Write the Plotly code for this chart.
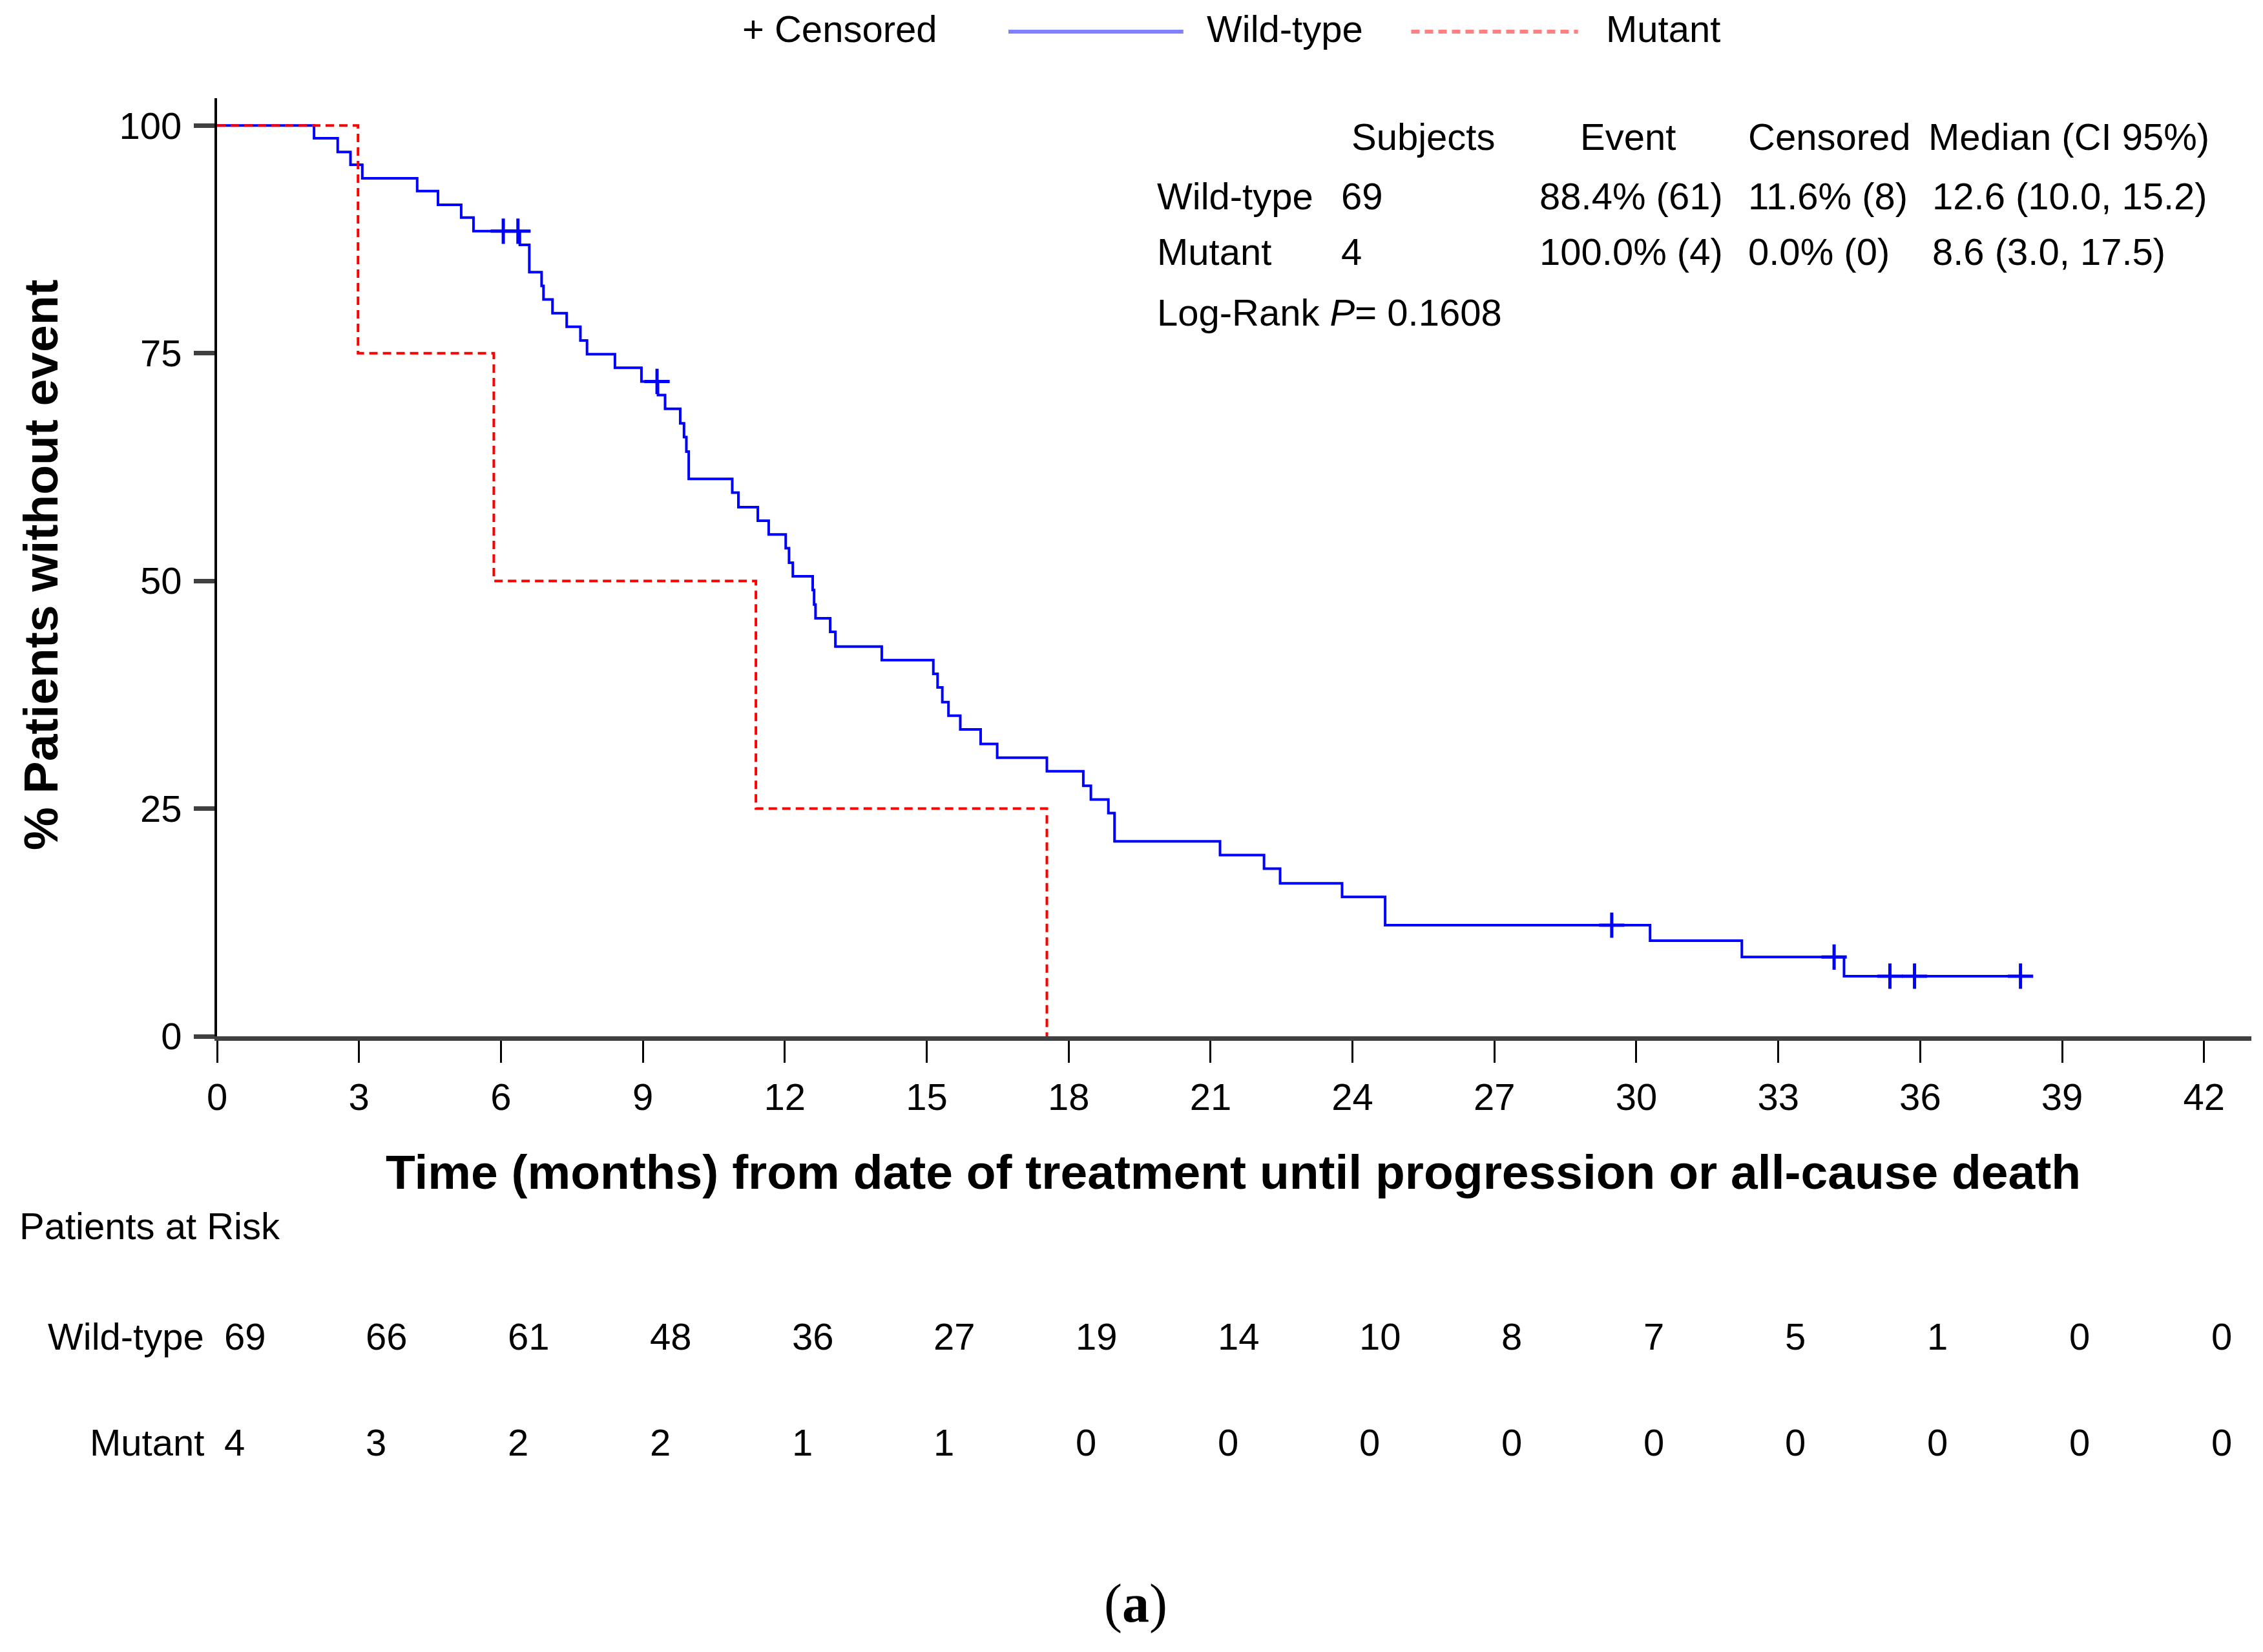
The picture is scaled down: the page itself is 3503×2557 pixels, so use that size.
import plotly.graph_objects as go

# Kaplan-Meier steps (months, % without event)
wt_time = [0, 2.05, 2.55, 2.82, 3.07, 4.23, 4.67, 5.16, 5.42, 6.40, 6.60, 6.86, 6.90,
           7.09, 7.39, 7.68, 7.82, 8.41, 8.97, 9.32, 9.47, 9.79, 9.87, 9.92, 9.97,
           10.89, 11.02, 11.43, 11.66, 12.02, 12.09, 12.17, 12.59, 12.62, 12.65, 12.96,
           13.07, 14.05, 15.14, 15.23, 15.33, 15.46, 15.71, 16.14, 16.49, 17.54, 18.31,
           18.47, 18.84, 18.97, 21.20, 22.13, 22.47, 23.78, 24.69, 30.29, 32.23, 34.39, 38.12]
wt_surv = [100, 98.6, 97.1, 95.7, 94.2, 92.8, 91.3, 89.9, 88.4, 86.9, 83.9, 82.4, 80.9,
           79.4, 77.9, 76.4, 74.9, 73.4, 71.9, 70.4, 68.9, 67.3, 65.8, 64.2, 61.2,
           59.7, 58.1, 56.6, 55.1, 53.6, 52.0, 50.5, 49.0, 47.4, 45.9, 44.4,
           42.8, 41.3, 39.8, 38.3, 36.7, 35.2, 33.7, 32.1, 30.6, 29.1, 27.5,
           26.0, 24.5, 21.4, 19.9, 18.4, 16.8, 15.3, 12.2, 10.5, 8.7, 6.6, 6.6]

wt_cens_time = [6.05, 6.36, 9.30, 29.48, 34.18, 35.36, 35.88, 38.12]
wt_cens_surv = [88.4, 88.4, 71.9, 12.2, 8.7, 6.6, 6.6, 6.6]

mut_time = [0, 2.98, 5.85, 11.39, 17.54]
mut_surv = [100, 75, 50, 25, 0]

# patients at risk table
risk_time = [0, 3, 6, 9, 12, 15, 18, 21, 24, 27, 30, 33, 36, 39, 42]
risk_wt = [69, 66, 61, 48, 36, 27, 19, 14, 10, 8, 7, 5, 1, 0, 0]
risk_mut = [4, 3, 2, 2, 1, 1, 0, 0, 0, 0, 0, 0, 0, 0, 0]

# summary table
stat_header = ['Subjects', 'Event', 'Censored', 'Median (CI 95%)']
stat_wt = ['Wild-type', '69', '88.4% (61)', '11.6% (8)', '12.6 (10.0, 15.2)']
stat_mut = ['Mutant', '4', '100.0% (4)', '0.0% (0)', '8.6 (3.0, 17.5)']
logrank_text = 'Log-Rank <i>P</i>= 0.1608'

FONT = 'Liberation Sans'
TXT = dict(family=FONT, size=58, color='black')
BOLD = dict(family=FONT, size=75, color='black')

fig = go.Figure()

fig.add_trace(go.Scatter(
    x=wt_time, y=wt_surv, mode='lines', line=dict(color='#0000ff', width=4, shape='hv'),
    name='Wild-type', showlegend=False, hoverinfo='skip'))
fig.add_trace(go.Scatter(
    x=wt_cens_time, y=wt_cens_surv, mode='markers',
    marker=dict(symbol='cross-thin', size=28, line=dict(color='#0000ff', width=5)),
    name='Censored', showlegend=False, hoverinfo='skip'))
fig.add_trace(go.Scatter(
    x=mut_time, y=mut_surv, mode='lines',
    line=dict(color='#ff0000', width=4, shape='hv', dash='13px,8px'),
    name='Mutant', showlegend=False, hoverinfo='skip'))

ann = []

# summary table inside the plot (paper coords)
col_x = [0.4614, 0.5519, 0.6494, 0.7520, 0.8425]
head_x = [0.5570, 0.6694, 0.7520, 0.8406]
row_y = [0.9587, 0.8960, 0.8361, 0.7720]
for hx, h in zip(head_x, stat_header):
    ann.append(dict(x=hx, y=row_y[0], text=h, xanchor='left'))
for cx, t in zip(col_x, stat_wt):
    ann.append(dict(x=cx, y=row_y[1], text=t, xanchor='left'))
for cx, t in zip(col_x, stat_mut):
    ann.append(dict(x=cx, y=row_y[2], text=t, xanchor='left'))
ann.append(dict(x=col_x[0], y=row_y[3], text=logrank_text, xanchor='left'))

# legend at the top, drawn by hand
ann.append(dict(x=0.2575, y=1.0737, text='+ Censored', xanchor='left'))
ann.append(dict(x=0.4860, y=1.0737, text='Wild-type', xanchor='left'))
ann.append(dict(x=0.6820, y=1.0737, text='Mutant', xanchor='left'))

# axis titles
ann.append(dict(x=0.4995, y=-0.1446, text='<b>Time (months) from date of treatment until progression or all-cause death</b>',
                xanchor='center', font=BOLD))
ann.append(dict(x=-0.0867, y=0.5028, text='<b>% Patients without event</b>', textangle=-90,
                xanchor='center', font=BOLD))

# patients at risk
ann.append(dict(x=-0.0979, y=-0.2018, text='Patients at Risk', xanchor='left'))
ann.append(dict(x=-0.0057, y=-0.3198, text='Wild-type', xanchor='right'))
ann.append(dict(x=-0.0057, y=-0.4327, text='Mutant', xanchor='right'))
for t, n in zip(risk_time, risk_wt):
    ann.append(dict(x=t + 0.12, xref='x', y=-0.3198, text=str(n), xanchor='left'))
for t, n in zip(risk_time, risk_mut):
    ann.append(dict(x=t + 0.12, xref='x', y=-0.4327, text=str(n), xanchor='left'))

# panel label
ann.append(dict(x=0.4516, y=-0.6050, text='(<b>a</b>)', xanchor='center',
                font=dict(family='Liberation Serif', size=84, color='black')))

for a in ann:
    a.setdefault('xref', 'paper')
    a.setdefault('yref', 'paper')
    a.setdefault('yanchor', 'middle')
    a.setdefault('showarrow', False)
    a.setdefault('font', TXT)

shapes = [
    dict(type='line', xref='paper', yref='paper', x0=0.3890, x1=0.4750, y0=1.0709, y1=1.0709,
         line=dict(color='#8080ff', width=6)),
    dict(type='line', xref='paper', yref='paper', x0=0.5870, x1=0.6690, y0=1.0709, y1=1.0709,
         line=dict(color='#ff8080', width=6, dash='13px,8px')),
]

# page body has an 8px margin, so the figure is shrunk and shifted to compensate
fig.update_layout(
    width=3487, height=2541,
    margin=dict(l=328, r=10, t=144, b=945),
    paper_bgcolor='white', plot_bgcolor='white',
    showlegend=False,
    annotations=ann, shapes=shapes,
    xaxis=dict(range=[0, 43], tickvals=risk_time, ticks='outside', ticklen=34, tickwidth=3,
               tickcolor='black', showline=True, linecolor='#404040', linewidth=7,
               showgrid=False, zeroline=False, tickfont=TXT, ticklabelstandoff=3),
    yaxis=dict(range=[0, 103], tickvals=[0, 25, 50, 75, 100], ticks='outside', ticklen=32,
               tickwidth=7, tickcolor='#404040', showline=True, linecolor='black', linewidth=4,
               showgrid=False, zeroline=False, tickfont=TXT, ticklabelstandoff=7),
)

fig.write_html('out.html')
